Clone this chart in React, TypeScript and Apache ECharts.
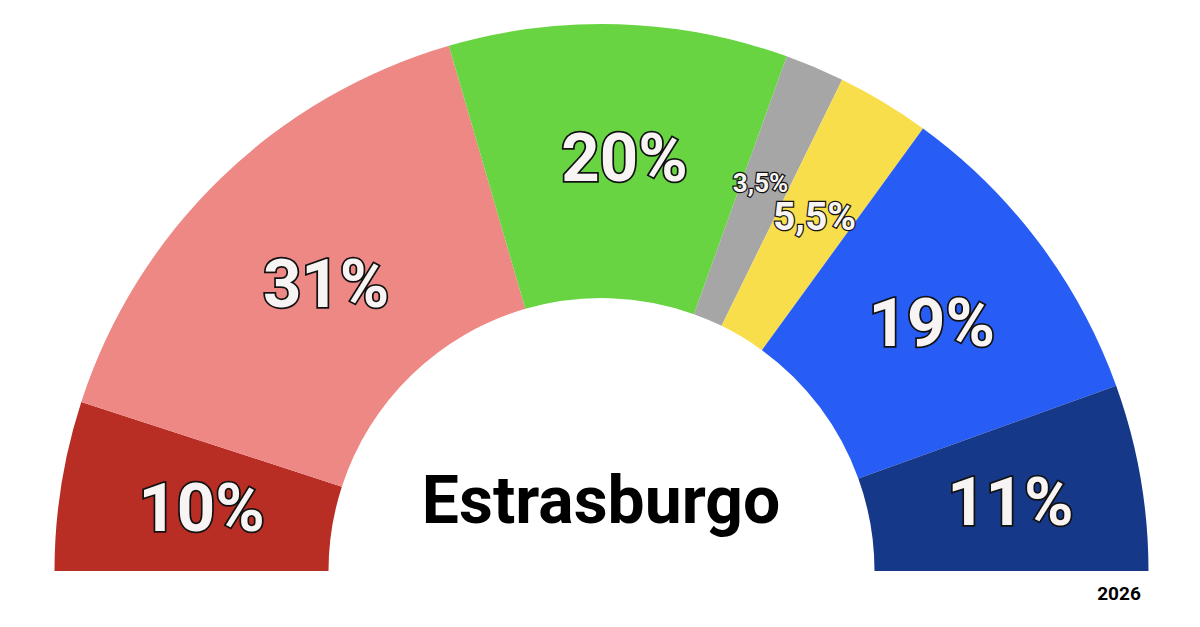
import React, { useEffect, useRef } from "react";
import * as echarts from "echarts";

const parties = ["A", "B", "C", "D", "E", "F", "G"];
const shares = [10, 31, 20, 3.5, 5.5, 19, 11];
const colors = ["#B82E24", "#EE8884", "#68D441", "#A6A6A6", "#F9DE4B", "#285DF5", "#163888"];
const title = "Estrasburgo";
const year = "2026";

export default function App() {
  const ref = useRef<HTMLDivElement>(null);
  useEffect(() => {
    const labelSizes = [67, 67, 67, 26, 39, 67, 67];
    const labelOffsets = [[8, 2], [12, 10], [10, 0], [-2, -8], [0, 0], [0, 0], [2, 2]];
    const chart = echarts.init(ref.current!, null, { renderer: "svg" });
    chart.setOption({
      animation: false,
      backgroundColor: "#ffffff",
      series: [
        {
          type: "pie",
          center: [601.5, 571],
          radius: [273, 547],
          startAngle: 180,
          endAngle: 0,
          clockwise: true,
          silent: true,
          avoidLabelOverlap: false,
          minShowLabelAngle: 0,
          labelLayout: { hideOverlap: false },
          labelLine: { show: false },
          itemStyle: { borderWidth: 0 },
          data: parties.map((p, i) => ({
            name: p,
            value: shares[i],
            itemStyle: { color: colors[i] },
            label: {
              show: true,
              position: "inside",
              offset: labelOffsets[i],
              formatter: () => String(shares[i]).replace(".", ",") + "%",
              fontFamily: "Roboto",
              fontWeight: "bold",
              fontSize: labelSizes[i],
              color: "#F8F4F4",
              textBorderColor: "#111111",
              textBorderWidth: labelSizes[i] > 40 ? 3.5 : 2.5,
            },
          })),
        },
      ],
      graphic: [
        {
          type: "text",
          x: 601,
          y: 500,
          style: {
            text: title,
            fontFamily: "Roboto",
            fontWeight: "bold",
            fontSize: 66,
            fill: "#000000",
            align: "center",
            verticalAlign: "middle",
          },
        },
        {
          type: "text",
          x: 1119,
          y: 593,
          style: {
            text: year,
            fontFamily: "Roboto",
            fontWeight: "bold",
            fontSize: 19,
            fill: "#000000",
            align: "center",
            verticalAlign: "middle",
          },
        },
      ],
    });
    return () => chart.dispose();
  }, []);
  return (
    <div
      ref={ref}
      style={{ position: "absolute", left: 0, top: 0, width: 1200, height: 627 }}
    />
  );
}
